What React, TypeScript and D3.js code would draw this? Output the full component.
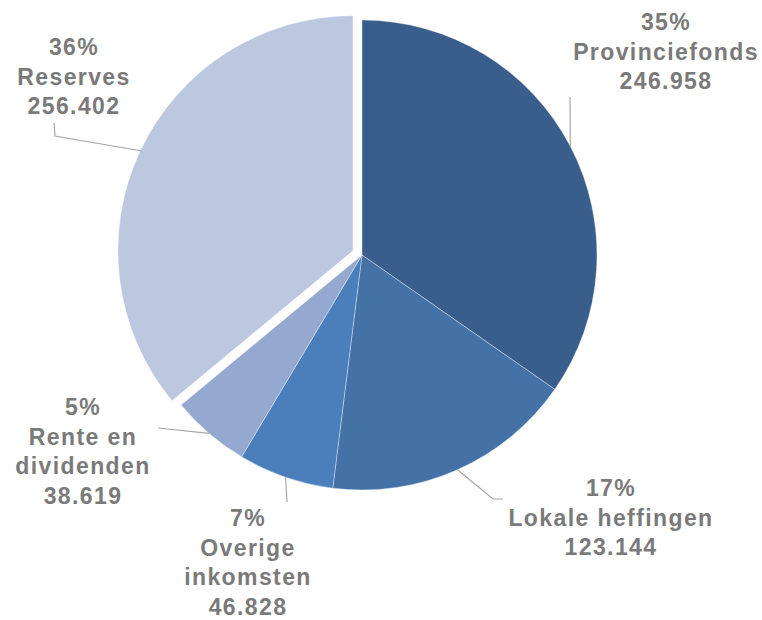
import React from "react";
import * as d3 from "d3";

const categories = ["Provinciefonds", "Lokale heffingen", "Overige inkomsten", "Rente en dividenden", "Reserves"];
const values = [246958, 123144, 46828, 38619, 256402];
const nameLines = [["Provinciefonds"], ["Lokale heffingen"], ["Overige", "inkomsten"], ["Rente en", "dividenden"], ["Reserves"]];
const valueLabels = ["246.958", "123.144", "46.828", "38.619", "256.402"];

const colors = ["#3A5E8C", "#4472A6", "#4B7FBC", "#95A8CF", "#BBC8E0"];
const exploded = [0, 0, 0, 0, 10];
const labelPos = [
  { x: 666, y: 22 },
  { x: 611, y: 488 },
  { x: 248, y: 518 },
  { x: 83, y: 407 },
  { x: 74, y: 47 },
];
const leaderEnds: [number, number][][] = [
  [[570, 97]],
  [[493, 499], [503, 499]],
  [[287, 502]],
  [[158, 428]],
  [[142, 151], [55, 136], [54, 123]],
];

export default function App() {
  const W = 762, H = 620;
  const cx = 362, cy = 255, R = 235;
  const total = d3.sum(values);
  const pie = d3.pie<number>().sort(null).value((d) => d);
  const arcs = pie(values);
  const arcGen = d3.arc<d3.PieArcDatum<number>>().innerRadius(0).outerRadius(R);
  const lineH = 29.5;

  return (
    <svg width={W} height={H} style={{ position: "absolute", left: 0, top: 0, background: "#fff" }}>
      <g transform={`translate(${cx},${cy})`}>
        {arcs.map((a, i) => {
          const mid = (a.startAngle + a.endAngle) / 2;
          const dx = Math.sin(mid) * exploded[i];
          const dy = -Math.cos(mid) * exploded[i];
          return (
            <path
              key={i}
              d={arcGen(a) || ""}
              transform={`translate(${dx},${dy})`}
              fill={colors[i]}
              stroke="#ffffff"
              strokeWidth={0.6}
              strokeOpacity={0.6}
            />
          );
        })}
      </g>
      {arcs.map((a, i) => {
        const mid = (a.startAngle + a.endAngle) / 2;
        const off = exploded[i];
        const sx = cx + Math.sin(mid) * (R + off);
        const sy = cy - Math.cos(mid) * (R + off);
        const pts: [number, number][] = [[sx, sy], ...leaderEnds[i]];
        const line = d3.line()(pts) || "";
        return <path key={"l" + i} d={line} fill="none" stroke="#A6A6A6" strokeWidth={1.2} />;
      })}
      {arcs.map((a, i) => {
        const pct = Math.round((values[i] / total) * 100) + "%";
        const lines = [pct, ...nameLines[i], valueLabels[i]];
        return (
          <text
            key={"t" + i}
            x={labelPos[i].x}
            y={labelPos[i].y}
            textAnchor="middle"
            fill="#7A7A7A"
            fontFamily="'Liberation Sans', Arial, sans-serif"
            fontWeight="bold"
            fontSize={23}
            letterSpacing={1.4}
            aria-label={categories[i]}
          >
            {lines.map((l, j) => (
              <tspan key={j} x={labelPos[i].x} y={labelPos[i].y + j * lineH} dominantBaseline="central">
                {l}
              </tspan>
            ))}
          </text>
        );
      })}
    </svg>
  );
}
